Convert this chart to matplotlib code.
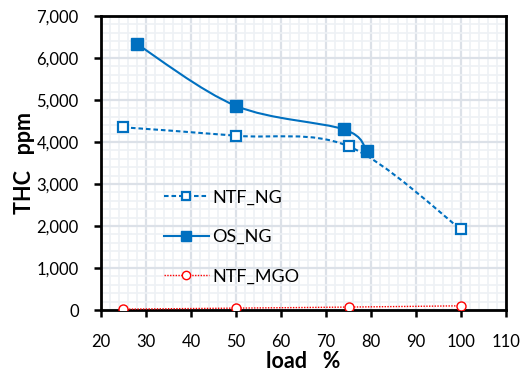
import matplotlib
matplotlib.use("Agg")
import matplotlib.pyplot as plt
from matplotlib.path import Path
from matplotlib.patches import PathPatch
from matplotlib.lines import Line2D
from matplotlib.ticker import FuncFormatter, MultipleLocator
import numpy as np

plt.rcParams['font.family'] = ['Lato', 'DejaVu Sans']

ntf_ng_x = [25, 50, 75, 100]
ntf_ng_y = [4350, 4150, 3900, 1920]
os_ng_x = [28, 50, 74, 79]
os_ng_y = [6330, 4860, 4300, 3790]
ntf_mgo_x = [25, 50, 75, 100]
ntf_mgo_y = [20, 45, 70, 100]

BLUE = '#0070C0'
RED = '#FF0000'

fig = plt.figure(figsize=(5.26, 3.75), dpi=100)
ax = fig.add_axes([0.192, 0.1733, 0.770, 0.784])


def smooth_path(xs, ys, t=1/6):
    pts = np.column_stack([xs, ys]).astype(float)
    n = len(pts)
    verts = [pts[0]]
    codes = [Path.MOVETO]
    for i in range(n - 1):
        p0 = pts[i - 1] if i > 0 else pts[i]
        p1 = pts[i]
        p2 = pts[i + 1]
        p3 = pts[i + 2] if i + 2 < n else pts[i + 1]
        c1 = p1 + (p2 - p0) * t
        c2 = p2 - (p3 - p1) * t
        verts += [c1, c2, p2]
        codes += [Path.CURVE4] * 3
    return Path(verts, codes)


def draw(xs, ys, color, ls, lw, marker, mfc, ms, mew, label, lms):
    patch = PathPatch(smooth_path(xs, ys), facecolor='none', edgecolor=color,
                      linestyle=ls, linewidth=lw, zorder=3)
    ax.add_patch(patch)
    ax.plot(xs, ys, linestyle='none', marker=marker, markerfacecolor=mfc,
            markeredgecolor=color, markersize=ms, markeredgewidth=mew, zorder=4)
    return Line2D([], [], color=color, linestyle=ls, linewidth=lw, marker=marker,
                  markerfacecolor=mfc, markeredgecolor=color, markersize=lms,
                  markeredgewidth=mew, label=label)

h1 = draw(ntf_ng_x, ntf_ng_y, BLUE, (0, (2.2, 1.4)), 1.5, 's', 'white', 6.5, 1.6, 'NTF_NG', 5.5)
h2 = draw(os_ng_x, os_ng_y, BLUE, '-', 1.5, 's', BLUE, 8.5, 1.0, 'OS_NG', 7)
h3 = draw(ntf_mgo_x, ntf_mgo_y, RED, (0, (1, 1)), 1.0, 'o', 'white', 6.5, 1.0, 'NTF_MGO', 6)

ax.set_xlim(20, 110)
ax.set_ylim(0, 7000)
ax.xaxis.set_major_locator(MultipleLocator(10))
ax.xaxis.set_minor_locator(MultipleLocator(2))
ax.yaxis.set_major_locator(MultipleLocator(1000))
ax.yaxis.set_minor_locator(MultipleLocator(200))
ax.yaxis.set_major_formatter(FuncFormatter(lambda v, p: f'{int(v):,}'))

ax.grid(which='major', color='#DCE1E8', linewidth=1.6, zorder=0)
ax.grid(which='minor', color='#EEF1F5', linewidth=1.2, zorder=0)
ax.set_axisbelow(True)

for s in ax.spines.values():
    s.set_linewidth(2.0)
    s.set_color('black')

ax.tick_params(which='major', direction='out', length=5, width=1.8, color='black',
               labelsize=12)
ax.tick_params(axis='x', which='major', pad=12)
ax.tick_params(axis='y', which='major', pad=11)
ax.tick_params(which='minor', length=0)

ax.set_xlabel('load   %', fontsize=15.5, fontweight='bold', labelpad=1)
ax.set_ylabel('THC   ppm', fontsize=15.5, fontweight='bold', labelpad=1)

leg = ax.legend(handles=[h1, h2, h3], loc='upper left', bbox_to_anchor=(0.155, 0.41),
                frameon=False, fontsize=13, handlelength=2.5, handletextpad=0.2,
                labelspacing=1.3, borderpad=0, borderaxespad=0)

fig.savefig('out.png', dpi=100)
